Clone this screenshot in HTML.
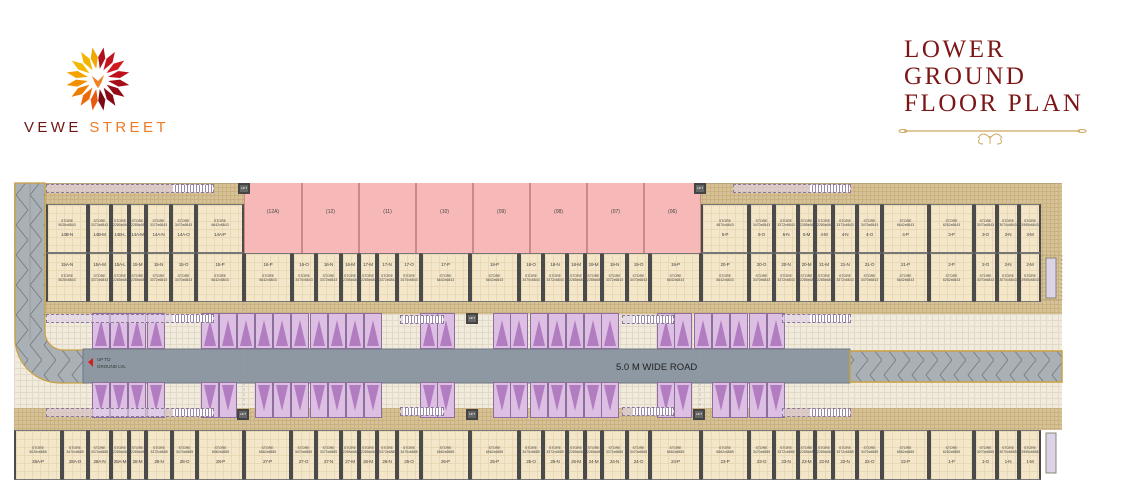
<!DOCTYPE html>
<html><head><meta charset="utf-8">
<style>
*{margin:0;padding:0;box-sizing:border-box}
body{width:1133px;height:494px;background:#fff;position:relative;overflow:hidden;font-family:"Liberation Sans",sans-serif}
.a{position:absolute}
.hatch{background-color:#d6c296;background-image:linear-gradient(#c9b27f 1px,transparent 1px),linear-gradient(90deg,#c9b27f 1px,transparent 1px);background-size:4px 4px}
.tile{background-color:#f1ebdd;background-image:linear-gradient(#e2d9c6 1px,transparent 1px),linear-gradient(90deg,#e2d9c6 1px,transparent 1px);background-size:6px 6px}
.s{position:absolute;background-color:#f4e6c8;background-image:linear-gradient(#e9d8b6 1px,transparent 1px),linear-gradient(90deg,#e9d8b6 1px,transparent 1px);background-size:8px 8px;border-left:2px solid #4b4b4b;border-right:2px solid #4b4b4b;border-top:1px solid #777;border-bottom:1px solid #777;text-align:center;color:#444;font-size:3.5px;line-height:4px;white-space:nowrap;overflow:hidden}
.s b{display:block;font-weight:normal;font-size:4.6px;line-height:6px;letter-spacing:-0.2px}
.t{top:204px;height:49px;padding-top:14px}.t b{margin-top:5px}
.m{top:253px;height:49px;padding-top:8px}.m b{margin-bottom:6px}
.r{top:430px;height:50px;padding-top:15px}.r b{margin-top:5px}
.p{position:absolute;top:183px;height:70px;background:#f7b8b8;border-left:1px solid #c98a8a;border-right:1px solid #c98a8a;font-size:5px;color:#444;text-align:center;padding-top:26px}
.bay{position:absolute;width:18px;height:36px;background:#dcbfe3;border:1px solid #8e6e9c}
.bay::after{content:"";position:absolute;left:2px;right:2px;top:6px;bottom:2px;background:#b27cc0;clip-path:polygon(50% 0,100% 100%,0 100%)}
.up{top:313px}
.dn{top:382px}
.dn::after{top:2px;bottom:6px;clip-path:polygon(0 0,100% 0,50% 100%)}
.st{position:absolute;height:9px;border:1px dashed #8a7a9a;background:rgba(225,210,235,.6)}
.st i{position:absolute;right:0;top:0;bottom:0;width:40px;background:repeating-linear-gradient(90deg,#fff 0 2px,#9a8aa8 2px 3px)}
.lift{position:absolute;width:12px;height:11px;background:#666;border:2px solid #444;color:#fff;font-size:3px;text-align:center;line-height:7px}
</style></head><body>

<!-- Logo -->
<svg class="a" style="left:64px;top:46px" width="68" height="66" viewBox="-33 -32 66 64">
<g>
<polygon points="0,-10 -3.5,-21 0,-31 3.5,-21" fill="#f0a800" transform="rotate(-10)"/>
<polygon points="0,-10 -3.5,-21 0,-31 3.5,-21" fill="#f3b400" transform="rotate(-32)"/>
<polygon points="0,-10 -3.5,-21 0,-31 3.5,-21" fill="#f5b800" transform="rotate(-55)"/>
<polygon points="0,-10 -3.5,-21 0,-31 3.5,-21" fill="#f4a300" transform="rotate(-78)"/>
<polygon points="0,-10 -3.5,-21 0,-31 3.5,-21" fill="#f39000" transform="rotate(-101)"/>
<polygon points="0,-10 -3.5,-21 0,-31 3.5,-21" fill="#ef7d00" transform="rotate(-124)"/>
<polygon points="0,-10 -3.5,-21 0,-31 3.5,-21" fill="#ec6a0a" transform="rotate(-147)"/>
<polygon points="0,-10 -3.5,-21 0,-31 3.5,-21" fill="#e85a10" transform="rotate(-170)"/>
<polygon points="0,-10 -3.5,-21 0,-31 3.5,-21" fill="#b0101a" transform="rotate(10)"/>
<polygon points="0,-10 -3.5,-21 0,-31 3.5,-21" fill="#c4141e" transform="rotate(32)"/>
<polygon points="0,-10 -3.5,-21 0,-31 3.5,-21" fill="#d01a20" transform="rotate(55)"/>
<polygon points="0,-10 -3.5,-21 0,-31 3.5,-21" fill="#c0121c" transform="rotate(78)"/>
<polygon points="0,-10 -3.5,-21 0,-31 3.5,-21" fill="#a50e18" transform="rotate(101)"/>
<polygon points="0,-10 -3.5,-21 0,-31 3.5,-21" fill="#960c16" transform="rotate(124)"/>
<polygon points="0,-10 -3.5,-21 0,-31 3.5,-21" fill="#870a14" transform="rotate(147)"/>
<polygon points="0,-10 -3.5,-21 0,-31 3.5,-21" fill="#7a0a12" transform="rotate(170)"/>
</g>
<path d="M-6,-3 L0,2 L6,-4 L3,4 L0,9 L-3,4 Z" fill="#f08020"/>
</svg>
<div class="a" style="left:24px;top:119px;font-size:15px;letter-spacing:3.4px;white-space:nowrap"><span style="color:#6e1616">VEWE</span> <span style="color:#ee7a26">STREET</span></div>

<!-- Title -->
<div class="a" style="left:904px;top:36px;font-family:'Liberation Serif',serif;color:#7c1616;font-size:25px;line-height:27px;letter-spacing:2.6px;white-space:nowrap">LOWER<br>GROUND<br>FLOOR PLAN</div>
<svg class="a" style="left:898px;top:126px" width="190" height="24">
<line x1="6" y1="5" x2="182" y2="5" stroke="#cfa862" stroke-width="1.2"/>
<ellipse cx="5" cy="5" rx="4" ry="1.5" fill="none" stroke="#cfa862"/>
<ellipse cx="184" cy="5" rx="4" ry="1.5" fill="none" stroke="#cfa862"/>
<path d="M80,12 q5,-8 12,0 q7,-8 12,0 M82,12 q-4,6 3,6 M102,12 q4,6 -3,6 M92,10 v8" fill="none" stroke="#cfa862" stroke-width="1"/>
</svg>

<!-- Plan background -->
<div class="a hatch" style="left:14px;top:183px;width:1048px;height:131px"></div>
<div class="a tile" style="left:14px;top:314px;width:1048px;height:100px"></div>
<div class="a hatch" style="left:14px;top:300px;width:1048px;height:14px"></div>
<div class="a hatch" style="left:14px;top:408px;width:1048px;height:22px"></div>
<div class="a" style="left:14px;top:183px;width:1048px;height:1px;background:#b9a57a"></div>

<!-- left ramp & road -->
<svg class="a" style="left:0;top:0" width="1133" height="494">
<defs><pattern id="chr" width="14" height="30" patternUnits="userSpaceOnUse"><rect width="14" height="30" fill="#a9b0b6"/><path d="M14,0 L2,15 L14,30" fill="none" stroke="#777" stroke-width="0.8"/></pattern></defs>
<path d="M15,183 L15,338 A45,45 0 0 0 60,383 L86,383 L86,350 L63,350 A18,18 0 0 1 45,332 L45,183 Z" fill="url(#chr)" stroke="#c9a040" stroke-width="1.2"/>
<line x1="30" y1="183" x2="30" y2="340" stroke="#888" stroke-width="0.5"/>
<rect x="83" y="349" width="767" height="34" fill="#8d98a3" stroke="#707a84"/>
<rect x="850" y="351" width="212" height="31" fill="url(#chr)" stroke="#c9a040" stroke-width="1.5"/>
<polygon points="88,362 93,358 93,367" fill="#d02020"/>
<text x="97" y="361" font-size="4.5" fill="#333" font-family="Liberation Sans">UP TO</text>
<text x="97" y="368" font-size="4.5" fill="#333" font-family="Liberation Sans">GROUND LVL</text>
<text x="616" y="370" font-size="9.5" fill="#222" font-family="Liberation Sans">5.0 M WIDE ROAD</text>
<line x1="244" y1="183" x2="244" y2="480" stroke="#a99" stroke-width="0.5" stroke-dasharray="3,2"/>
<line x1="700" y1="183" x2="700" y2="480" stroke="#a99" stroke-width="0.5" stroke-dasharray="3,2"/>
<rect x="1042" y="255" width="20" height="45" fill="none" stroke="#998" stroke-width="0.5" stroke-dasharray="2,2"/>
<rect x="1046" y="258" width="10" height="40" fill="#ddd3e6" stroke="#887"/>
<rect x="1046" y="433" width="10" height="40" fill="#ddd3e6" stroke="#887"/>
</svg>

<!-- pink units -->
<div class="p" style="left:244px;width:58px">(12A)</div>
<div class="p" style="left:302px;width:57px">(12)</div>
<div class="p" style="left:359px;width:57px">(11)</div>
<div class="p" style="left:416px;width:57px">(10)</div>
<div class="p" style="left:473px;width:57px">(09)</div>
<div class="p" style="left:530px;width:57px">(08)</div>
<div class="p" style="left:587px;width:57px">(07)</div>
<div class="p" style="left:644px;width:57px">(06)</div>

<!-- top row -->
<div class="s t" style="left:46px;width:42px">STORE<br>5025x6843<b>14B-N</b></div>
<div class="s t" style="left:88px;width:23px">STORE<br>3372x6843<b>14B-M</b></div>
<div class="s t" style="left:111px;width:18px">STORE<br>2285x6843<b>14B-L</b></div>
<div class="s t" style="left:129px;width:17px">STORE<br>2285x6843<b>14A-M</b></div>
<div class="s t" style="left:146px;width:25px">STORE<br>3372x6843<b>14A-N</b></div>
<div class="s t" style="left:171px;width:25px">STORE<br>3470x6843<b>14A-O</b></div>
<div class="s t" style="left:196px;width:48px">STORE<br>6642x6843<b>14A-P</b></div>
<div class="s t" style="left:701px;width:48px">STORE<br>4870x6843<b>5-P</b></div>
<div class="s t" style="left:749px;width:25px">STORE<br>3470x6843<b>5-O</b></div>
<div class="s t" style="left:774px;width:24px">STORE<br>3372x6843<b>5-N</b></div>
<div class="s t" style="left:798px;width:17px">STORE<br>2285x6843<b>5-M</b></div>
<div class="s t" style="left:815px;width:18px">STORE<br>2285x6843<b>4-M</b></div>
<div class="s t" style="left:833px;width:24px">STORE<br>3372x6843<b>4-N</b></div>
<div class="s t" style="left:857px;width:25px">STORE<br>3470x6843<b>4-O</b></div>
<div class="s t" style="left:882px;width:47px">STORE<br>6642x6843<b>4-P</b></div>
<div class="s t" style="left:929px;width:45px">STORE<br>6252x6843<b>3-P</b></div>
<div class="s t" style="left:974px;width:23px">STORE<br>3070x6843<b>3-O</b></div>
<div class="s t" style="left:997px;width:22px">STORE<br>3070x6843<b>3-N</b></div>
<div class="s t" style="left:1019px;width:22px">STORE<br>2955x6843<b>3-M</b></div>

<!-- second row -->
<div class="s m" style="left:46px;width:42px"><b>15A-N</b>STORE<br>5025x6843</div>
<div class="s m" style="left:88px;width:23px"><b>15A-M</b>STORE<br>3372x6843</div>
<div class="s m" style="left:111px;width:18px"><b>15A-L</b>STORE<br>2285x6843</div>
<div class="s m" style="left:129px;width:17px"><b>15-M</b>STORE<br>2285x6843</div>
<div class="s m" style="left:146px;width:25px"><b>15-N</b>STORE<br>3372x6843</div>
<div class="s m" style="left:171px;width:25px"><b>15-O</b>STORE<br>3470x6843</div>
<div class="s m" style="left:196px;width:48px"><b>15-P</b>STORE<br>6642x6843</div>
<div class="s m" style="left:244px;width:48px"><b>16-P</b>STORE<br>6642x6843</div>
<div class="s m" style="left:292px;width:24px"><b>16-O</b>STORE<br>3470x6843</div>
<div class="s m" style="left:316px;width:25px"><b>16-N</b>STORE<br>3372x6843</div>
<div class="s m" style="left:341px;width:18px"><b>16-M</b>STORE<br>2285x6843</div>
<div class="s m" style="left:359px;width:18px"><b>17-M</b>STORE<br>2285x6843</div>
<div class="s m" style="left:377px;width:20px"><b>17-N</b>STORE<br>3372x6843</div>
<div class="s m" style="left:397px;width:24px"><b>17-O</b>STORE<br>3470x6843</div>
<div class="s m" style="left:421px;width:49px"><b>17-P</b>STORE<br>6642x6843</div>
<div class="s m" style="left:470px;width:49px"><b>18-P</b>STORE<br>6642x6843</div>
<div class="s m" style="left:519px;width:24px"><b>18-O</b>STORE<br>3470x6843</div>
<div class="s m" style="left:543px;width:24px"><b>18-N</b>STORE<br>3372x6843</div>
<div class="s m" style="left:567px;width:18px"><b>18-M</b>STORE<br>2285x6843</div>
<div class="s m" style="left:585px;width:17px"><b>19-M</b>STORE<br>2285x6843</div>
<div class="s m" style="left:602px;width:25px"><b>19-N</b>STORE<br>3372x6843</div>
<div class="s m" style="left:627px;width:23px"><b>19-O</b>STORE<br>3470x6843</div>
<div class="s m" style="left:650px;width:51px"><b>19-P</b>STORE<br>6642x6843</div>
<div class="s m" style="left:701px;width:48px"><b>20-P</b>STORE<br>6642x6843</div>
<div class="s m" style="left:749px;width:25px"><b>20-O</b>STORE<br>3470x6843</div>
<div class="s m" style="left:774px;width:24px"><b>20-N</b>STORE<br>3372x6843</div>
<div class="s m" style="left:798px;width:17px"><b>20-M</b>STORE<br>2285x6843</div>
<div class="s m" style="left:815px;width:18px"><b>21-M</b>STORE<br>2285x6843</div>
<div class="s m" style="left:833px;width:24px"><b>21-N</b>STORE<br>3372x6843</div>
<div class="s m" style="left:857px;width:25px"><b>21-O</b>STORE<br>3470x6843</div>
<div class="s m" style="left:882px;width:47px"><b>21-P</b>STORE<br>6642x6843</div>
<div class="s m" style="left:929px;width:45px"><b>2-P</b>STORE<br>6252x6843</div>
<div class="s m" style="left:974px;width:23px"><b>2-O</b>STORE<br>3070x6843</div>
<div class="s m" style="left:997px;width:22px"><b>2-N</b>STORE<br>3070x6843</div>
<div class="s m" style="left:1019px;width:22px"><b>2-M</b>STORE<br>2955x6843</div>

<!-- bottom row -->
<div class="s r" style="left:14px;width:48px">STORE<br>5025x6885<b>28A-P</b></div>
<div class="s r" style="left:62px;width:26px">STORE<br>3470x6885<b>28A-O</b></div>
<div class="s r" style="left:88px;width:23px">STORE<br>3372x6885<b>28A-N</b></div>
<div class="s r" style="left:111px;width:18px">STORE<br>2285x6843<b>28A-M</b></div>
<div class="s r" style="left:129px;width:17px">STORE<br>2285x6843<b>28-M</b></div>
<div class="s r" style="left:146px;width:26px">STORE<br>3372x6885<b>28-N</b></div>
<div class="s r" style="left:172px;width:25px">STORE<br>3470x6885<b>28-O</b></div>
<div class="s r" style="left:197px;width:47px">STORE<br>6562x6885<b>28-P</b></div>
<div class="s r" style="left:244px;width:47px">STORE<br>6562x6885<b>27-P</b></div>
<div class="s r" style="left:291px;width:25px">STORE<br>3470x6885<b>27-O</b></div>
<div class="s r" style="left:316px;width:25px">STORE<br>3372x6885<b>27-N</b></div>
<div class="s r" style="left:341px;width:18px">STORE<br>2285x6843<b>27-M</b></div>
<div class="s r" style="left:359px;width:18px">STORE<br>2285x6843<b>26-M</b></div>
<div class="s r" style="left:377px;width:20px">STORE<br>3372x6885<b>26-N</b></div>
<div class="s r" style="left:397px;width:24px">STORE<br>3470x6885<b>26-O</b></div>
<div class="s r" style="left:421px;width:49px">STORE<br>6562x6885<b>26-P</b></div>
<div class="s r" style="left:470px;width:49px">STORE<br>6562x6885<b>25-P</b></div>
<div class="s r" style="left:519px;width:24px">STORE<br>3470x6885<b>25-O</b></div>
<div class="s r" style="left:543px;width:24px">STORE<br>3372x6885<b>25-N</b></div>
<div class="s r" style="left:567px;width:18px">STORE<br>2285x6843<b>25-M</b></div>
<div class="s r" style="left:585px;width:17px">STORE<br>2285x6843<b>24-M</b></div>
<div class="s r" style="left:602px;width:25px">STORE<br>3372x6885<b>24-N</b></div>
<div class="s r" style="left:627px;width:23px">STORE<br>3470x6885<b>24-O</b></div>
<div class="s r" style="left:650px;width:51px">STORE<br>6562x6885<b>24-P</b></div>
<div class="s r" style="left:701px;width:48px">STORE<br>6562x6885<b>23-P</b></div>
<div class="s r" style="left:749px;width:25px">STORE<br>3470x6885<b>23-O</b></div>
<div class="s r" style="left:774px;width:24px">STORE<br>3372x6885<b>23-N</b></div>
<div class="s r" style="left:798px;width:17px">STORE<br>2285x6843<b>23-M</b></div>
<div class="s r" style="left:815px;width:18px">STORE<br>2285x6843<b>22-M</b></div>
<div class="s r" style="left:833px;width:24px">STORE<br>3372x6885<b>22-N</b></div>
<div class="s r" style="left:857px;width:25px">STORE<br>3470x6885<b>22-O</b></div>
<div class="s r" style="left:882px;width:47px">STORE<br>6562x6885<b>22-P</b></div>
<div class="s r" style="left:929px;width:45px">STORE<br>6252x6885<b>1-P</b></div>
<div class="s r" style="left:974px;width:23px">STORE<br>3070x6885<b>1-O</b></div>
<div class="s r" style="left:997px;width:22px">STORE<br>3070x6885<b>1-N</b></div>
<div class="s r" style="left:1019px;width:22px">STORE<br>2955x6885<b>1-M</b></div>

<!-- parking top -->
<div class="bay up" style="left:92px"></div><div class="bay up" style="left:110px"></div><div class="bay up" style="left:128px"></div>
<div class="bay up" style="left:147px"></div>
<div class="bay up" style="left:201px"></div><div class="bay up" style="left:219px"></div><div class="bay up" style="left:237px"></div>
<div class="bay up" style="left:255px"></div><div class="bay up" style="left:273px"></div><div class="bay up" style="left:291px"></div>
<div class="bay up" style="left:310px"></div><div class="bay up" style="left:328px"></div><div class="bay up" style="left:346px"></div>
<div class="bay up" style="left:364px"></div>
<div class="bay up" style="left:420px"></div><div class="bay up" style="left:437px"></div>
<div class="bay up" style="left:493px"></div><div class="bay up" style="left:510px"></div>
<div class="bay up" style="left:530px"></div><div class="bay up" style="left:548px"></div><div class="bay up" style="left:566px"></div>
<div class="bay up" style="left:584px"></div><div class="bay up" style="left:601px"></div>
<div class="bay up" style="left:657px"></div><div class="bay up" style="left:674px"></div>
<div class="bay up" style="left:694px"></div><div class="bay up" style="left:712px"></div><div class="bay up" style="left:730px"></div>
<div class="bay up" style="left:749px"></div><div class="bay up" style="left:767px"></div>

<!-- parking bottom -->
<div class="bay dn" style="left:92px"></div><div class="bay dn" style="left:110px"></div><div class="bay dn" style="left:128px"></div>
<div class="bay dn" style="left:147px"></div>
<div class="bay dn" style="left:201px"></div><div class="bay dn" style="left:219px"></div>
<div class="bay dn" style="left:255px"></div><div class="bay dn" style="left:273px"></div><div class="bay dn" style="left:291px"></div>
<div class="bay dn" style="left:310px"></div><div class="bay dn" style="left:328px"></div><div class="bay dn" style="left:346px"></div>
<div class="bay dn" style="left:364px"></div>
<div class="bay dn" style="left:420px"></div><div class="bay dn" style="left:437px"></div>
<div class="bay dn" style="left:493px"></div><div class="bay dn" style="left:510px"></div>
<div class="bay dn" style="left:530px"></div><div class="bay dn" style="left:548px"></div><div class="bay dn" style="left:566px"></div>
<div class="bay dn" style="left:584px"></div><div class="bay dn" style="left:601px"></div>
<div class="bay dn" style="left:657px"></div><div class="bay dn" style="left:674px"></div>
<div class="bay dn" style="left:712px"></div><div class="bay dn" style="left:730px"></div>
<div class="bay dn" style="left:749px"></div><div class="bay dn" style="left:767px"></div>

<!-- stairs -->
<div class="st" style="left:46px;top:184px;width:168px"><i></i></div>
<div class="st" style="left:733px;top:184px;width:118px"><i></i></div>
<div class="st" style="left:46px;top:314px;width:168px"><i></i></div>
<div class="st" style="left:400px;top:315px;width:44px"><i></i></div>
<div class="st" style="left:622px;top:315px;width:52px"><i></i></div>
<div class="st" style="left:782px;top:314px;width:69px"><i></i></div>
<div class="st" style="left:46px;top:408px;width:168px"><i></i></div>
<div class="st" style="left:400px;top:407px;width:44px"><i></i></div>
<div class="st" style="left:622px;top:407px;width:52px"><i></i></div>
<div class="st" style="left:782px;top:408px;width:69px"><i></i></div>

<!-- lifts -->
<div class="lift" style="left:238px;top:183px">LIFT</div>
<div class="lift" style="left:694px;top:183px">LIFT</div>
<div class="lift" style="left:466px;top:313px">LIFT</div>
<div class="lift" style="left:237px;top:409px">LIFT</div>
<div class="lift" style="left:466px;top:409px">LIFT</div>
<div class="lift" style="left:693px;top:409px">LIFT</div>
</body></html>
